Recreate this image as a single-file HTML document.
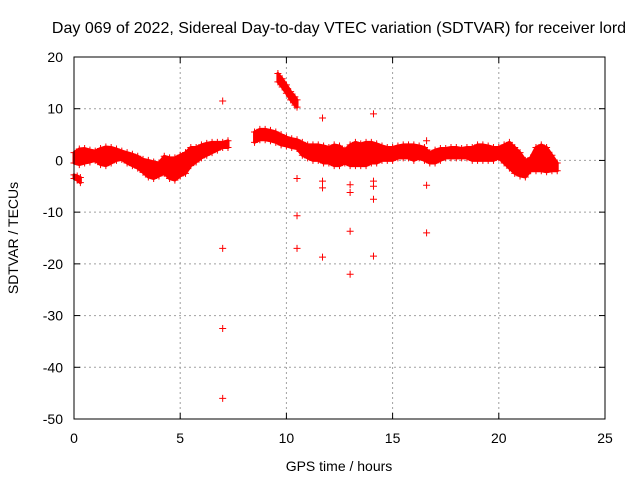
<!DOCTYPE html>
<html><head><meta charset="utf-8"><style>
body{margin:0;background:#fff;}
svg text{font-family:"Liberation Sans",sans-serif;font-size:14px;fill:#000;}
</style></head><body>
<svg width="640" height="480" xmlns="http://www.w3.org/2000/svg">
<text x="339" y="33" text-anchor="middle" style="font-size:16px">Day 069 of 2022, Sidereal Day-to-day VTEC variation (SDTVAR) for receiver lord</text>
<text x="339" y="471" text-anchor="middle">GPS time / hours</text>
<text transform="translate(18,238) rotate(-90)" text-anchor="middle">SDTVAR / TECUs</text>
<g id="grid"></g><g id="ticks"></g><g id="marks"></g>
<rect x="74" y="57" width="531" height="362" fill="none" stroke="#000" stroke-width="1"/>
</svg>
<script>
const xTicks=[0,5,10,15,20,25];
const yTicks=[20,10,0,-10,-20,-30,-40,-50];
// band segments: hours, lower, upper (NaN breaks segments)
const bandHours=[0,0.15,0.3,NaN,
0,0.25,0.5,0.75,1,1.25,1.5,1.75,2,2.25,2.5,2.75,3,3.25,3.5,3.75,4,4.25,4.5,4.75,5,5.25,5.5,5.75,6,6.25,6.5,6.75,7,7.25,NaN,
8.5,8.75,9,9.25,9.5,9.75,10,10.25,10.5,10.75,11,11.25,11.5,11.75,12,12.25,12.5,12.75,13,13.25,13.5,13.75,14,14.25,14.5,14.75,15,15.25,15.5,15.75,16,16.25,16.5,16.75,17,17.25,17.5,17.75,18,18.25,18.5,18.75,19,19.25,19.5,19.75,20,20.25,20.5,20.75,21,21.25,21.5,21.75,22,22.25,22.5,22.75,NaN,
9.6,9.8,10,10.2,10.4,10.5];
const bandLow=[-3.5,-3.8,-4.3,NaN,
-0.5,-0.8,-0.5,-0.3,0,-0.8,-1,-0.5,0,0.2,-0.5,-1,-1.5,-2.3,-3.2,-3.5,-3,-2.5,-3.5,-3.8,-3,-2.5,-1,-0.3,0.5,1,1.5,2,2.5,2.5,NaN,
3.5,4,4,3.8,3.5,3,2.8,2.5,2.3,1,0.5,0,0,-0.5,-0.5,-1,-1,-0.5,-1,-1,-1,-1,-0.5,-0.5,0,0,0,0.5,0.5,0.5,0,0.5,0,-0.5,-0.5,0,0.5,0.5,0.5,0.5,0.5,0,0,0,0,0,0.5,-0.5,-1.5,-2.5,-3,-3.2,-2,-2,-2,-2.2,-2,-2,NaN,
15.2,14.2,13,11.7,10.7,10.3];
const bandHigh=[-2.8,-3,-3.3,NaN,
1.5,2.2,2.3,2,1.8,2.3,2.6,2.5,2.2,1.8,1.5,1.2,0.8,0.2,0,-0.3,-0.5,0.8,0.5,0.5,1,1.5,2.5,2.5,3,3.3,3.5,3.5,3.5,3.8,NaN,
5.5,6,6,5.8,5.5,5,4.5,4.2,4,3.5,3,3,3,2.8,2.5,3,2.8,2,3,3.5,3.2,3.5,3.5,3.2,2.8,2.5,2.5,2.8,3,3,3,2.8,2.5,1.5,2,2.3,2.3,2.5,2.5,2.3,2.5,2.5,3,3,2.8,2.5,2.5,3,3.5,2.5,1.5,0,0.5,2.5,3,2.5,1,-0.5,NaN,
16.8,15.8,14.6,13.3,12.3,11.7];
const outHours=[7,7,7,7,10.5,10.5,10.5,11.7,11.7,11.7,11.7,13,13,13,13,14.1,14.1,14.1,14.1,14.1,16.6,16.6,16.6];
const outValues=[11.5,-17,-32.5,-46,-3.5,-10.7,-17,8.2,-4,-5.3,-18.7,-4.7,-6.2,-13.7,-22,9,-4,-5,-7.5,-18.5,3.8,-4.8,-14];

const NS="http://www.w3.org/2000/svg";
const X=h=>74+h*(531/25);
const Y=v=>57+(20-v)*(362/70);
function mk(tag,attrs,parent){const e=document.createElementNS(NS,tag);for(const k in attrs)e.setAttribute(k,attrs[k]);parent.appendChild(e);return e;}
const grid=document.getElementById('grid'),ticks=document.getElementById('ticks'),marks=document.getElementById('marks');
xTicks.forEach(t=>{
 if(t>0&&t<25){const g=mk('line',{x1:X(t),x2:X(t),y1:57,y2:419,stroke:'#a0a0a0','stroke-dasharray':'2,3'},grid);
 
 }
 mk('line',{x1:X(t),x2:X(t),y1:419,y2:413,stroke:'#000'},ticks);
 mk('line',{x1:X(t),x2:X(t),y1:57,y2:63,stroke:'#000'},ticks);
 const l=mk('text',{x:X(t),y:443,'text-anchor':'middle'},ticks);l.textContent=t;
 
 
});
yTicks.forEach(t=>{
 if(t<20&&t>-50){const g=mk('line',{x1:74,x2:605,y1:Y(t),y2:Y(t),stroke:'#a0a0a0','stroke-dasharray':'2,3'},grid);
 
 }
 mk('line',{x1:74,x2:80,y1:Y(t),y2:Y(t),stroke:'#000'},ticks);
 mk('line',{x1:605,x2:599,y1:Y(t),y2:Y(t),stroke:'#000'},ticks);
 const l=mk('text',{x:63,y:Y(t)+5,'text-anchor':'end'},ticks);l.textContent=t;
 
 
});
function plus(x,y,name){const p=mk('path',{d:`M${x-3.5},${y}h7M${x},${y-3.5}v7`,stroke:'#f00','stroke-width':1},marks);
 
 }
let seg=[];
function flush(){if(seg.length<2){seg=[];return;}
 let d='M'+seg.map(i=>X(bandHours[i])+','+Y(bandHigh[i])).join('L')+'L'+seg.slice().reverse().map(i=>X(bandHours[i])+','+Y(bandLow[i])).join('L')+'Z';
 const p=mk('path',{d:d,fill:'#f00',stroke:'#f00','stroke-width':3,'stroke-linejoin':'round'},marks);
 
 
 seg=[];}
bandHours.forEach((h,i)=>{if(isNaN(h)){flush();}else{seg.push(i);plus(X(h),Y(bandHigh[i]),'sdtvar-point');plus(X(h),Y(bandLow[i]),'sdtvar-point');}});
flush();
outHours.forEach((h,i)=>plus(X(h),Y(outValues[i]),'sdtvar-outlier'));
</script>
</body></html>
